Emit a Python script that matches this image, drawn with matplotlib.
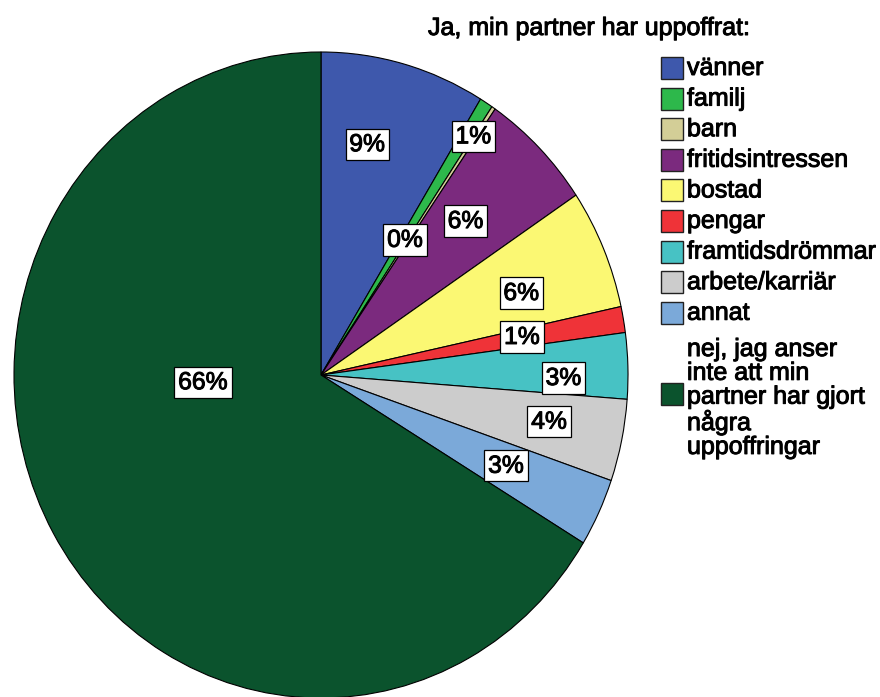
import numpy as np
import matplotlib
matplotlib.use("Agg")
import matplotlib.pyplot as plt
from matplotlib.patches import Rectangle
import matplotlib.patheffects as pe

plt.rcParams['font.family'] = ['Liberation Sans', 'DejaVu Sans']

categories = ["vänner", "familj", "barn", "fritidsintressen", "bostad", "pengar",
              "framtidsdrömmar", "arbete/karriär", "annat",
              "nej, jag anser\ninte att min\npartner har gjort\nnågra\nuppoffringar"]
values = [8.7, 0.7, 0.2, 6.0, 6.0, 1.3, 3.3, 4.1, 3.4, 66.3]
colors = ["#3E58AC", "#2DB84B", "#D3CE97", "#7B2A7E", "#FBF873", "#EF3338",
          "#47C2C4", "#CCCCCC", "#7BA9D9", "#0B532D"]
legend_title = "Ja, min partner har uppoffrat:"

# label placement (style): radial fraction and angular offset (deg, clockwise)
label_r = [0.73, 0.89, 0.50, 0.67, 0.70, 0.665, 0.79, 0.757, 0.665, 0.385]
label_dphi = [-3.8, 1.3, -1.0, -0.7, 1.8, -0.3, 2.3, -0.7, -0.2, 26.0]

W, H = 880, 697
fig = plt.figure(figsize=(W / 100, H / 100), dpi=100)

bold_fx = [pe.withStroke(linewidth=0.7, foreground='black')]

# pie axes (slightly elliptical like the reference)
ax = fig.add_axes([14 / W, (H - 698) / H, 614 / W, 646 / H])
wedges, _ = ax.pie(values, colors=colors, startangle=90, counterclock=False,
                   wedgeprops=dict(edgecolor="black", linewidth=0.8))
for w in wedges:
    w.set_clip_on(False)
ax.set_aspect('auto')
ax.set_xlim(-1, 1)
ax.set_ylim(-1, 1)
ax.axis('off')

total = sum(values)
for w, v, r, dphi in zip(wedges, values, label_r, label_dphi):
    tm = (w.theta1 + w.theta2) / 2.0
    phi = np.deg2rad(90 - tm + dphi)
    x, y = r * np.sin(phi), r * np.cos(phi)
    t = ax.text(x, y, f"{round(100 * v / total):d}%", ha='center', va='center',
                fontsize=17.8, color='black',
                bbox=dict(boxstyle='square,pad=0.15', fc='white', ec='black', lw=0.9),
                zorder=5)
    t.set_path_effects(bold_fx)

# legend (manual)
tt = fig.text(428 / W, 1 - 28 / H, legend_title, ha='left', va='center', fontsize=18.0)
tt.set_path_effects(bold_fx)
pitch = 30.6
y0 = 68
for i, (cat, col) in enumerate(zip(categories, colors)):
    if i < len(categories) - 1:
        yc = y0 + pitch * i
        ty = yc
    else:
        yc = 394
        ty = 398
    rect = Rectangle(((661) / W, 1 - (yc + 11) / H), 22 / W, 22 / H,
                     transform=fig.transFigure, fc=col, ec="#222222", lw=1.0)
    fig.add_artist(rect)
    lt = fig.text(687 / W, 1 - ty / H, cat, ha='left', va='center', fontsize=18.0,
                  linespacing=0.99)
    lt.set_path_effects(bold_fx)

fig.savefig("out.png", dpi=100)
